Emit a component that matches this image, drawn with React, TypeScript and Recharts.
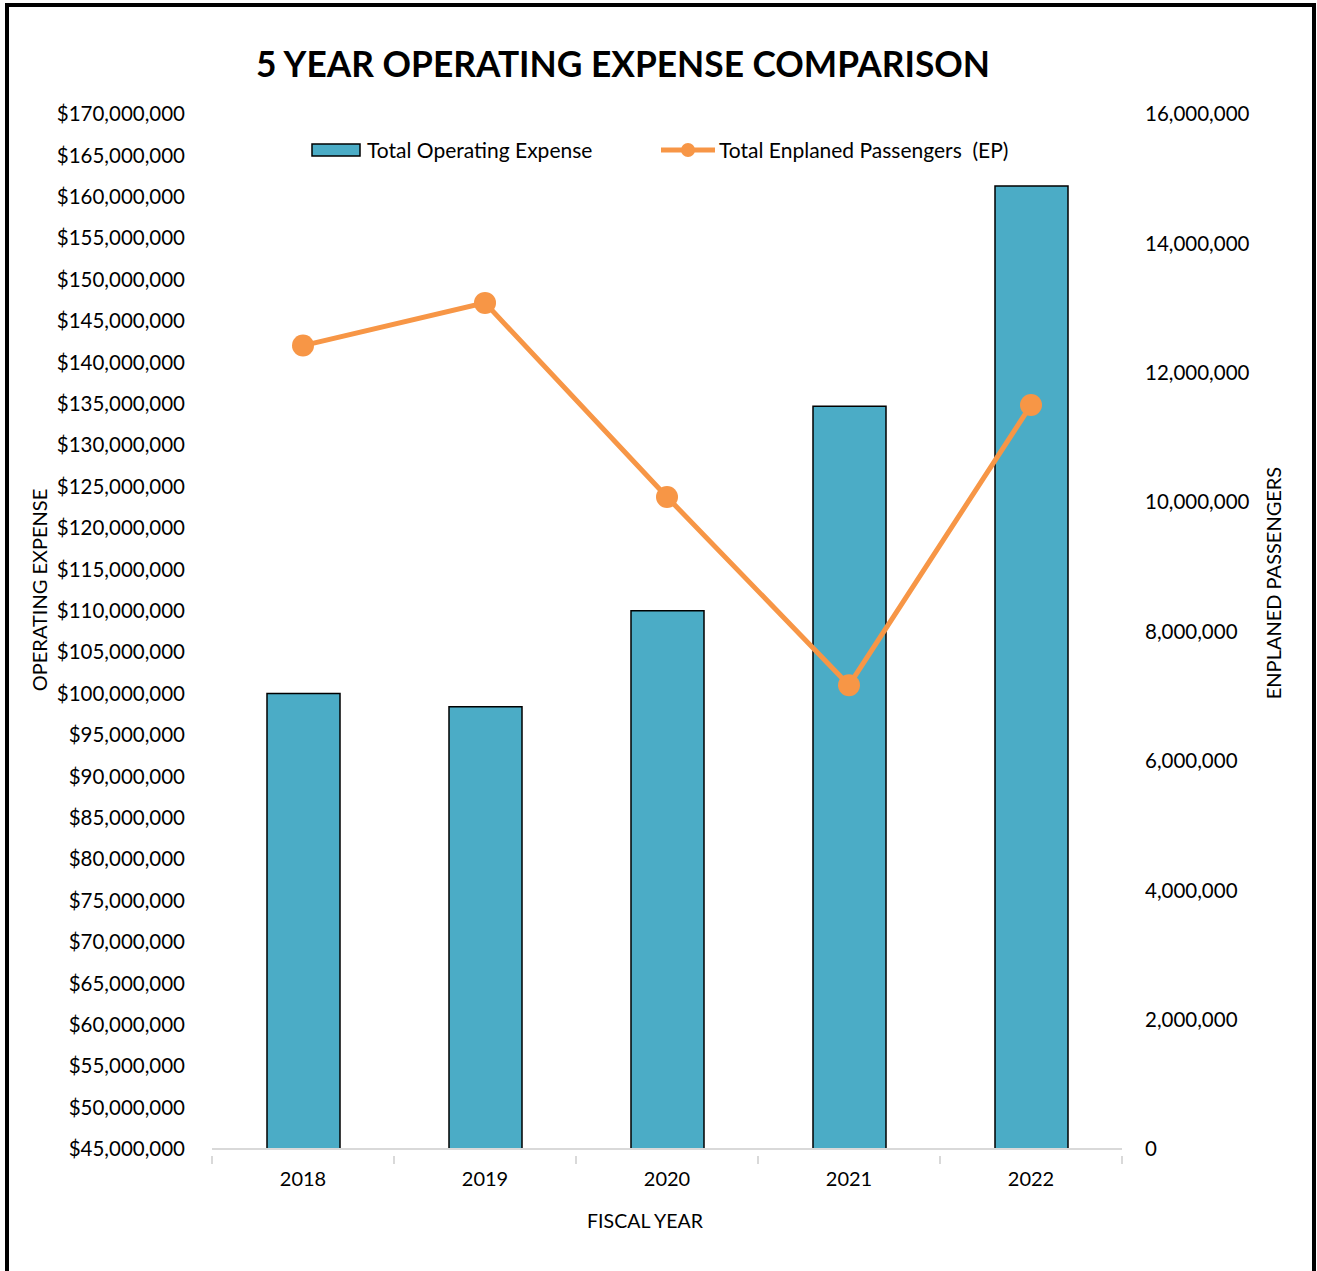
import React from 'react';
import { ComposedChart, Bar, Line, XAxis, YAxis, Legend } from 'recharts';

const years = ['2018', '2019', '2020', '2021', '2022'];
const operatingExpense = [100000000, 98400000, 110000000, 134700000, 161300000];
const enplanedPassengers = [12420000, 13080000, 10080000, 7170000, 11500000];
const expenseTicks = [
  45000000, 50000000, 55000000, 60000000, 65000000, 70000000, 75000000, 80000000,
  85000000, 90000000, 95000000, 100000000, 105000000, 110000000, 115000000, 120000000,
  125000000, 130000000, 135000000, 140000000, 145000000, 150000000, 155000000, 160000000,
  165000000, 170000000,
];
const passengerTicks = [0, 2000000, 4000000, 6000000, 8000000, 10000000, 12000000, 14000000, 16000000];

const data = years.map((year, i) => ({
  year,
  expense: operatingExpense[i],
  passengers: enplanedPassengers[i],
}));

const W = 1317;
const H = 1271;
const MARGIN = { top: 114, right: 0, bottom: 0, left: 0 };
const LEFT_AXIS_W = 212;
const RIGHT_AXIS_W = 195;
const X_AXIS_H = 122;
const PLOT_W = W - LEFT_AXIS_W - RIGHT_AXIS_W;
const HALF_BAND = PLOT_W / years.length / 2;

const FONT = 'Lato, "Open Sans", sans-serif';
const BAR_COLOR = '#4BACC6';
const LINE_COLOR = '#F79646';
const AXIS_GRAY = '#D9D9D9';

const fmtMoney = (v: number) => '$' + v.toLocaleString('en-US');
const fmtNum = (v: number) => v.toLocaleString('en-US');

const XTick = (props: any) => {
  const { x, y, payload, index } = props;
  const last = index === years.length - 1;
  return (
    <g>
      <line x1={x - HALF_BAND} x2={x - HALF_BAND} y1={y - 1} y2={y + 7} stroke={AXIS_GRAY} strokeWidth={2} />
      {last && <line x1={x + HALF_BAND} x2={x + HALF_BAND} y1={y - 1} y2={y + 7} stroke={AXIS_GRAY} strokeWidth={2} />}
      <text x={x} y={y + 29} textAnchor="middle" fontSize={20} fontFamily={FONT} fill="#000">
        {payload.value}
      </text>
    </g>
  );
};

const LegendContent = () => (
  <div style={{ position: 'relative', height: 26, fontFamily: FONT, fontSize: 21, color: '#000' }}>
    <div style={{ position: 'absolute', left: 0, top: 0, display: 'flex', alignItems: 'center', whiteSpace: 'nowrap' }}>
      <svg width={52} height={16} style={{ marginRight: 4 }}>
        <rect x={1} y={2} width={48} height={12} fill={BAR_COLOR} stroke="#000" strokeWidth={1.5} />
      </svg>
      <span>Total Operating Expense</span>
    </div>
    <div style={{ position: 'absolute', left: 350, top: 0, display: 'flex', alignItems: 'center', whiteSpace: 'nowrap' }}>
      <svg width={56} height={16} style={{ marginRight: 2 }}>
        <line x1={0} x2={54} y1={8} y2={8} stroke={LINE_COLOR} strokeWidth={5} />
        <circle cx={27} cy={8} r={7} fill={LINE_COLOR} />
      </svg>
      <span>Total Enplaned Passengers&nbsp; (EP)</span>
    </div>
  </div>
);

export default function App() {
  return (
    <div style={{ position: 'absolute', left: 0, top: 0, width: W, height: H, background: '#fff', overflow: 'hidden' }}>
      <div
        style={{
          position: 'absolute',
          left: 5,
          top: 3,
          width: 1311,
          height: H - 3,
          borderTop: '4px solid #000',
          borderLeft: '4px solid #000',
          borderRight: '4px solid #000',
          boxSizing: 'border-box',
        }}
      />
      <ComposedChart width={W} height={H} data={data} margin={MARGIN} style={{ position: 'absolute', left: 0, top: 0 }}>
        <text x={623} y={77} textAnchor="middle" fontFamily={FONT} fontWeight={700} fontSize={35.3} fill="#000">
          5 YEAR OPERATING EXPENSE COMPARISON
        </text>
        <XAxis
          dataKey="year"
          xAxisId="x"
          height={X_AXIS_H}
          axisLine={{ stroke: AXIS_GRAY, strokeWidth: 2 }}
          tickLine={false}
          tick={<XTick />}
          interval={0}
          label={{
            content: () => (
              <text x={645} y={1228} textAnchor="middle" fontSize={19.5} fontFamily={FONT} fill="#000">
                FISCAL YEAR
              </text>
            ),
          }}
        />
        <YAxis
          yAxisId="left"
          orientation="left"
          width={LEFT_AXIS_W}
          domain={[45000000, 170000000]}
          ticks={expenseTicks}
          interval={0}
          tickFormatter={fmtMoney}
          axisLine={false}
          tickLine={false}
          tickSize={0}
          tickMargin={27}
          tick={{ fontSize: 20.5, fontFamily: FONT, fill: '#000' }}
          label={{
            content: () => (
              <text transform="translate(47,590) rotate(-90)" textAnchor="middle" fontSize={20} fontFamily={FONT} fill="#000">
                OPERATING EXPENSE
              </text>
            ),
          }}
        />
        <YAxis
          yAxisId="right"
          orientation="right"
          width={RIGHT_AXIS_W}
          domain={[0, 16000000]}
          ticks={passengerTicks}
          interval={0}
          tickFormatter={fmtNum}
          axisLine={false}
          tickLine={false}
          tickSize={0}
          tickMargin={23}
          tick={{ fontSize: 20.5, fontFamily: FONT, fill: '#000' }}
          label={{
            content: () => (
              <text transform="translate(1281,583) rotate(-90)" textAnchor="middle" fontSize={20} fontFamily={FONT} fill="#000">
                ENPLANED PASSENGERS
              </text>
            ),
          }}
        />
        <Legend
          verticalAlign="middle"
          align="center"
          layout="horizontal"
          content={<LegendContent />}
          wrapperStyle={{ position: 'absolute', top: 137, left: 311, width: 740, height: 26 }}
        />
        <Bar
          dataKey="expense"
          name="Total Operating Expense"
          xAxisId="x"
          yAxisId="left"
          fill={BAR_COLOR}
          stroke="#000"
          strokeWidth={1.5}
          barSize={73}
          isAnimationActive={false}
        />
        <Line
          dataKey="passengers"
          name="Total Enplaned Passengers  (EP)"
          xAxisId="x"
          yAxisId="right"
          type="linear"
          stroke={LINE_COLOR}
          strokeWidth={5}
          dot={{ r: 11, fill: LINE_COLOR, stroke: LINE_COLOR, strokeWidth: 0 }}
          activeDot={false}
          isAnimationActive={false}
        />
      </ComposedChart>
    </div>
  );
}
